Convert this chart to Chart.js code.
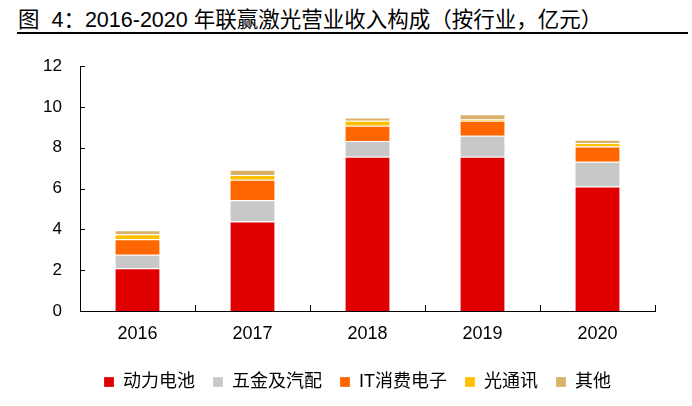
<!DOCTYPE html>
<html>
<head>
<meta charset="utf-8">
<script src="https://cdn.jsdelivr.net/npm/chart.js@4"></script>
<style>
  html, body { margin: 0; padding: 0; background: #fff; }
  #wrap { position: relative; width: 692px; height: 406px; }
  #title {
    position: absolute; left: 18px; top: 2px; line-height: 25px;
    font: 21.5px "Liberation Sans", "Noto Sans CJK SC", sans-serif;
    text-spacing-trim: space-all;
    color: #000; white-space: nowrap;
  }
  #rule {
    position: absolute; left: 17px; top: 32px; width: 671px; height: 2px; background: #000;
  }
  canvas { position: absolute; left: 0; top: 0; }
</style>
</head>
<body>
<div id="wrap">
  <div id="title">图&nbsp;&nbsp;4：2016-2020 年联赢激光营业收入构成（按行业，亿元）</div>
  <div id="rule"></div>
  <canvas id="chart" width="692" height="406"></canvas>
</div>
<script>
// Data (亿元)
const years = ["2016", "2017", "2018", "2019", "2020"];
const battery = [2.1, 4.38, 7.55, 7.55, 6.1];
const hardware = [0.66, 1.04, 0.78, 1.03, 1.21];
const consumerIT = [0.75, 1.01, 0.74, 0.74, 0.75];
const optical = [0.25, 0.23, 0.25, 0.06, 0.17];
const others = [0.2, 0.26, 0.16, 0.26, 0.16];
const seriesNames = ["动力电池", "五金及汽配", "IT消费电子", "光通讯", "其他"];
const seriesColors = ["#E00000", "#C8C8C8", "#FF6600", "#FFC000", "#D9B26A"];
const yMax = 12;
const yStep = 2;

const font = "'Liberation Sans', 'Noto Sans CJK SC', sans-serif";

// inward tick marks, like the original
const inwardTicks = {
  id: "inwardTicks",
  afterLayout(chart) {
    // the legend in the original sits a bit right of the page centre
    chart.legend.left += 30;
    chart.legend.right += 30;
  },
  afterDraw(chart) {
    const { ctx, chartArea, scales } = chart;
    const x = scales.x, y = scales.y;
    ctx.save();
    ctx.strokeStyle = "#000";
    ctx.lineWidth = 1;
    ctx.beginPath();
    y.ticks.forEach((t) => {
      const py = Math.round(y.getPixelForValue(t.value)) + 0.5;
      ctx.moveTo(chartArea.left, py);
      ctx.lineTo(chartArea.left + 5, py);
    });
    for (let i = 0; i < years.length; i++) {
      const half = (x.getPixelForValue(1) - x.getPixelForValue(0)) / 2;
      const px = Math.round(x.getPixelForValue(i) + half) + 0.5;
      ctx.moveTo(px, chartArea.bottom);
      ctx.lineTo(px, chartArea.bottom - 6);
    }
    ctx.stroke();
    ctx.restore();
  },
};

const allSeries = [battery, hardware, consumerIT, optical, others];

new Chart(document.getElementById("chart"), {
  type: "bar",
  data: {
    labels: years,
    datasets: allSeries.map((d, i) => ({
      label: seriesNames[i],
      data: d,
      backgroundColor: seriesColors[i],
      borderColor: "#fff",
      borderWidth: { top: 1, left: 0, right: 0, bottom: 0 },
      borderSkipped: false,
      categoryPercentage: 1,
      barPercentage: 0.385,
    })),
  },
  options: {
    responsive: false,
    animation: false,
    layout: { padding: { top: 66, right: 37, bottom: 5, left: 0 } },
    plugins: {
      tooltip: { enabled: false },
      legend: {
        position: "bottom",
        labels: {
          boxWidth: 10,
          boxHeight: 10,
          padding: 18,
          color: "#000",
          font: { family: font, size: 18 },
        },
      },
    },
    scales: {
      x: {
        stacked: true,
        grid: { display: false },
        border: { display: true, color: "#000", width: 1 },
        ticks: { color: "#000", padding: 4, font: { family: font, size: 18 } },
        afterFit(s) { s.height = 44; },
      },
      y: {
        stacked: true,
        min: 0,
        max: yMax,
        grid: { display: false },
        border: { display: true, color: "#000", width: 1 },
        ticks: { stepSize: yStep, color: "#000", padding: 10, font: { family: font, size: 17 } },
        afterFit(s) { s.width = 80; },
      },
    },
  },
  plugins: [inwardTicks],
});
</script>
</body>
</html>
